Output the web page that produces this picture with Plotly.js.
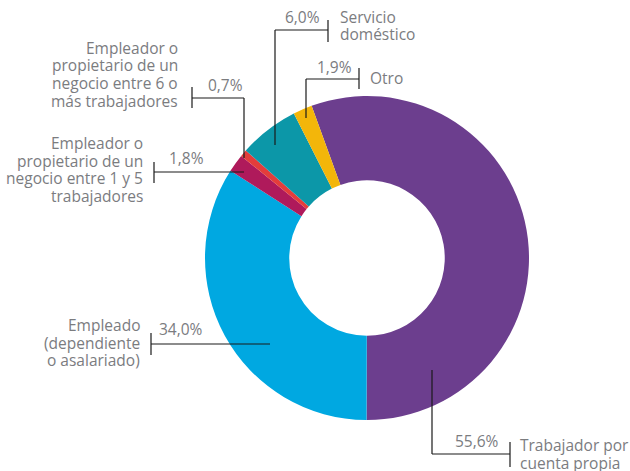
<!DOCTYPE html>
<html>
<head>
<meta charset="utf-8">
<script src="https://cdn.plot.ly/plotly-3.0.1.min.js"></script>
<style>html,body{margin:0;padding:0;background:#fff;}#chart{width:630px;height:471px;}</style>
</head>
<body>
<div id="chart"></div>
<script>
// ---- data ----
var categories = [
  "Trabajador por cuenta propia",
  "Empleado (dependiente o asalariado)",
  "Empleador o propietario de un negocio entre 1 y 5 trabajadores",
  "Empleador o propietario de un negocio entre 6 o más trabajadores",
  "Servicio doméstico",
  "Otro"
];
var values = [55.6, 34.0, 1.8, 0.7, 6.0, 1.9];
var labelLines = [
  ["Trabajador por", "cuenta propia"],
  ["Empleado", "(dependiente", "o asalariado)"],
  ["Empleador o", "propietario de un", "negocio entre 1 y 5", "trabajadores"],
  ["Empleador o", "propietario de un", "negocio entre 6 o", "más trabajadores"],
  ["Servicio", "doméstico"],
  ["Otro"]
];
var colors = ["#6C3E8E", "#00A8E1", "#AF1A5B", "#E43D3B", "#0C97A8", "#F3B60A"];

// ---- layout helpers (pixel -> paper) ----
var W = 630, H = 471;
function px(x) { return x / W; }
function py(y) { return 1 - y / H; }

var TXT = "#7b7c7f";
var FONT = "Open Sans";
var FS = 15.5;
var LH = 17.5;

// label layout per category: leader polyline, tick, pct position, label position
var layoutInfo = [
  { path: [[432, 370], [432, 454], [510, 454]], tick: [510, 442, 467], pct: [501, 441, "right"], lab: [518, 445, "left"] },
  { path: [[270, 344], [151, 344]], tick: [151, 333, 355], pct: [157, 329, "left"], lab: [142, 325, "right"] },
  { path: [[244, 172], [154, 172]], tick: [154, 162, 183], pct: [206, 158, "right"], lab: [145, 143, "right"] },
  { path: [[244, 158], [244, 98], [192, 98]], tick: [192, 87, 108], pct: [245, 85, "right"], lab: [180, 48, "right"] },
  { path: [[275, 145], [275, 30], [328, 30]], tick: [328, 20, 42], pct: [322, 17, "right"], lab: [338, 17, "left"] },
  { path: [[306, 118], [306, 79], [359, 79]], tick: [359, 68, 89], pct: [354, 67, "right"], lab: [368, 78, "left"] }
];

var shapes = [], annotations = [];
var lineStyle = { color: "#1a1a1a", width: 1.2 };
layoutInfo.forEach(function (L, i) {
  for (var k = 0; k < L.path.length - 1; k++) {
    shapes.push({ type: "line", xref: "paper", yref: "paper",
      x0: px(L.path[k][0]), y0: py(L.path[k][1]), x1: px(L.path[k + 1][0]), y1: py(L.path[k + 1][1]),
      line: lineStyle });
  }
  shapes.push({ type: "line", xref: "paper", yref: "paper",
    x0: px(L.tick[0]), y0: py(L.tick[1]), x1: px(L.tick[0]), y1: py(L.tick[2]),
    line: lineStyle });
  var pctText = values[i].toFixed(1).replace(".", ",") + "%";
  annotations.push({ xref: "paper", yref: "paper", x: px(L.pct[0]), y: py(L.pct[1]),
    xanchor: L.pct[2], yanchor: "middle", showarrow: false, text: pctText,
    font: { family: FONT, size: FS, color: TXT } });
  labelLines[i].forEach(function (t, j) {
    annotations.push({ xref: "paper", yref: "paper", x: px(L.lab[0]), y: py(L.lab[1] + j * LH),
      xanchor: L.lab[2], yanchor: "middle", showarrow: false, text: t,
      font: { family: FONT, size: FS, color: TXT } });
  });
});

var trace = {
  type: "pie",
  labels: categories,
  values: values,
  sort: false,
  direction: "clockwise",
  rotation: -20,
  hole: 0.48,
  textinfo: "none",
  hoverinfo: "none",
  marker: { colors: colors, line: { width: 0 } },
  domain: { x: [px(205), px(529)], y: [py(420), py(96)] },
  showlegend: false
};

var layout = {
  width: W, height: H,
  margin: { l: 0, r: 0, t: 0, b: 0 },
  paper_bgcolor: "#ffffff",
  showlegend: false,
  shapes: shapes,
  annotations: annotations
};

Plotly.newPlot("chart", [trace], layout, { displayModeBar: false, staticPlot: true });
</script>
</body>
</html>
